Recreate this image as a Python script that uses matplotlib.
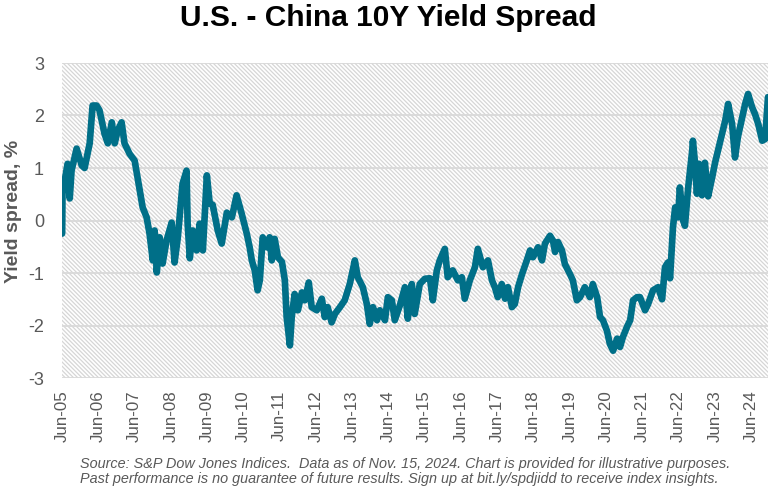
import matplotlib
matplotlib.use("Agg")
import matplotlib.pyplot as plt
from matplotlib.patches import Rectangle

plt.rcParams['font.family'] = ['Liberation Sans', 'DejaVu Sans']
plt.rcParams['hatch.linewidth'] = 0.9

title = "U.S. - China 10Y Yield Spread"
ylabel = "Yield spread, %"
footnote = ("Source: S&P Dow Jones Indices.  Data as of Nov. 15, 2024. Chart is provided for illustrative purposes.\n"
            "Past performance is no guarantee of future results. Sign up at bit.ly/spdjidd to receive index insights.")

# dates as decimal years
dates = [
    2005.42, 2005.43, 2005.57, 2005.63, 2005.68, 2005.82, 2005.96, 2006.04, 2006.12, 2006.18,
    2006.26, 2006.37, 2006.45, 2006.59, 2006.68, 2006.79, 2006.87, 2006.95, 2007.06, 2007.14,
    2007.28, 2007.42, 2007.48, 2007.56, 2007.64, 2007.75, 2007.83, 2007.92, 2007.97, 2008.03,
    2008.11, 2008.19, 2008.30, 2008.44, 2008.52, 2008.61, 2008.74, 2008.85, 2008.88, 2008.94,
    2009.02, 2009.13, 2009.21, 2009.30, 2009.41, 2009.49, 2009.57, 2009.71, 2009.82, 2009.96,
    2010.10, 2010.23, 2010.37, 2010.51, 2010.59, 2010.65, 2010.73, 2010.81, 2010.87, 2010.95,
    2011.06, 2011.14, 2011.20, 2011.28, 2011.37, 2011.48, 2011.56, 2011.61, 2011.70, 2011.75,
    2011.83, 2011.92, 2012.03, 2012.11, 2012.22, 2012.30, 2012.44, 2012.58, 2012.66, 2012.74,
    2012.85, 2012.94, 2013.08, 2013.21, 2013.35, 2013.49, 2013.57, 2013.71, 2013.82, 2013.90,
    2013.99, 2014.10, 2014.18, 2014.32, 2014.40, 2014.51, 2014.59, 2014.73, 2014.87, 2014.95,
    2015.06, 2015.14, 2015.28, 2015.42, 2015.56, 2015.64, 2015.75, 2015.83, 2015.97, 2016.05,
    2016.19, 2016.33, 2016.44, 2016.52, 2016.66, 2016.80, 2016.88, 2017.02, 2017.16, 2017.27,
    2017.35, 2017.43, 2017.54, 2017.63, 2017.71, 2017.82, 2017.90, 2017.99, 2018.10, 2018.23,
    2018.32, 2018.40, 2018.54, 2018.65, 2018.73, 2018.87, 2018.95, 2019.01, 2019.09, 2019.20,
    2019.28, 2019.42, 2019.50, 2019.61, 2019.70, 2019.83, 2019.97, 2020.05, 2020.17, 2020.25,
    2020.33, 2020.44, 2020.52, 2020.61, 2020.72, 2020.80, 2020.88, 2020.99, 2021.08, 2021.16,
    2021.27, 2021.35, 2021.49, 2021.57, 2021.71, 2021.85, 2021.96, 2022.04, 2022.12, 2022.18,
    2022.26, 2022.32, 2022.40, 2022.45, 2022.54, 2022.59, 2022.68, 2022.79, 2022.81, 2022.87,
    2022.92, 2022.98, 2023.06, 2023.14, 2023.23, 2023.34, 2023.42, 2023.50, 2023.61, 2023.70,
    2023.78, 2023.89, 2023.97, 2024.05, 2024.17, 2024.25, 2024.33, 2024.44, 2024.52, 2024.61,
    2024.72, 2024.80, 2024.88,
]

spread = [
    -0.25, 0.51, 1.08, 0.42, 0.95, 1.37, 1.05, 1.00, 1.27, 1.47,
    2.19, 2.19, 2.10, 1.65, 1.47, 1.87, 1.47, 1.71, 1.87, 1.47,
    1.27, 1.14, 0.90, 0.57, 0.25, 0.06, -0.25, -0.76, -0.19, -0.99,
    -0.32, -0.82, -0.38, -0.04, -0.80, -0.32, 0.70, 0.95, -0.06, -0.72,
    -0.19, -0.57, -0.06, -0.57, 0.86, 0.32, 0.30, -0.19, -0.44, 0.15,
    0.06, 0.48, 0.13, -0.25, -0.51, -0.76, -0.95, -1.33, -1.14, -0.32,
    -0.51, -0.32, -0.76, -0.35, -0.70, -0.79, -1.14, -1.84, -2.38, -1.84,
    -1.40, -1.71, -1.37, -1.52, -1.18, -1.65, -1.71, -1.49, -1.84, -1.65,
    -1.94, -1.78, -1.65, -1.52, -1.21, -0.76, -1.08, -1.27, -1.59, -1.97,
    -1.65, -1.90, -1.71, -1.90, -1.46, -1.52, -1.90, -1.62, -1.27, -1.87,
    -1.21, -1.78, -1.21, -1.11, -1.10, -1.52, -0.95, -0.76, -0.54, -1.08,
    -0.95, -1.14, -1.08, -1.49, -1.14, -0.89, -0.54, -0.89, -0.76, -1.14,
    -1.27, -1.46, -1.21, -1.49, -1.27, -1.65, -1.59, -1.27, -1.02, -0.76,
    -0.57, -0.70, -0.51, -0.76, -0.44, -0.29, -0.38, -0.60, -0.41, -0.57,
    -0.83, -1.02, -1.14, -1.52, -1.46, -1.27, -1.46, -1.21, -1.46, -1.84,
    -1.90, -2.10, -2.35, -2.48, -2.25, -2.41, -2.22, -2.03, -1.90, -1.52,
    -1.46, -1.46, -1.71, -1.60, -1.33, -1.27, -1.50, -0.89, -0.80, -1.10,
    -0.13, 0.25, 0.06, 0.63, 0.00, -0.10, 0.63, 1.33, 1.52, 1.08,
    0.51, 1.08, 0.48, 1.10, 0.46, 0.82, 1.10, 1.33, 1.65, 1.90,
    2.22, 1.84, 1.20, 1.59, 1.97, 2.22, 2.41, 2.16, 2.03, 1.84,
    1.52, 1.55, 2.35,
]

tick_years = list(range(2005, 2025))
tick_labels = [f"Jun-{y % 100:02d}" for y in tick_years]
y_ticks = [-3, -2, -1, 0, 1, 2, 3]

line_color = "#006F88"
text_gray = "#595959"
grid_gray = "#D9D9D9"

fig = plt.figure(figsize=(7.76, 4.90), dpi=100)
ax = fig.add_axes([62 / 776, 1 - 378 / 490, (768 - 62) / 776, (378 - 63) / 490])

# hatched background
bg = Rectangle((0, 0), 1, 1, transform=ax.transAxes, facecolor="white",
               edgecolor="#D6D6D6", hatch="\\" * 8, linewidth=0, zorder=0)
ax.add_patch(bg)

for yv in y_ticks:
    ax.axhline(yv, color=grid_gray, linewidth=1.3, zorder=1)

ax.plot(dates, spread, color=line_color, linewidth=4.8, solid_joinstyle="round",
        solid_capstyle="round", zorder=3)

ax.set_xlim(2005.417, 2024.88)
ax.set_ylim(-3, 3)
ax.set_yticks(y_ticks)
ax.set_yticklabels([str(v) for v in y_ticks])
ax.set_xticks([y + 5 / 12 for y in tick_years])
ax.set_xticklabels(tick_labels, rotation=90)

ax.tick_params(axis="both", length=0, colors=text_gray, labelsize=13)
ax.tick_params(axis="y", pad=13)
ax.tick_params(axis="x", pad=9, labelsize=12.2)
for s in ax.spines.values():
    s.set_visible(False)

fig.text(14 / 776, 1 - 211 / 490, ylabel, rotation=90, ha="center", va="center",
         fontsize=14, fontweight="bold", color=text_gray)

fig.text(0.5, 1 - 18 / 490, title, ha="center", va="center", fontsize=21.5,
         fontweight="bold", color="black")
fig.text(80 / 776, 1 - 457 / 490, footnote, ha="left", va="top", fontsize=10.4,
         style="italic", color=text_gray, linespacing=1.1)

fig.savefig("out.png", dpi=100)
